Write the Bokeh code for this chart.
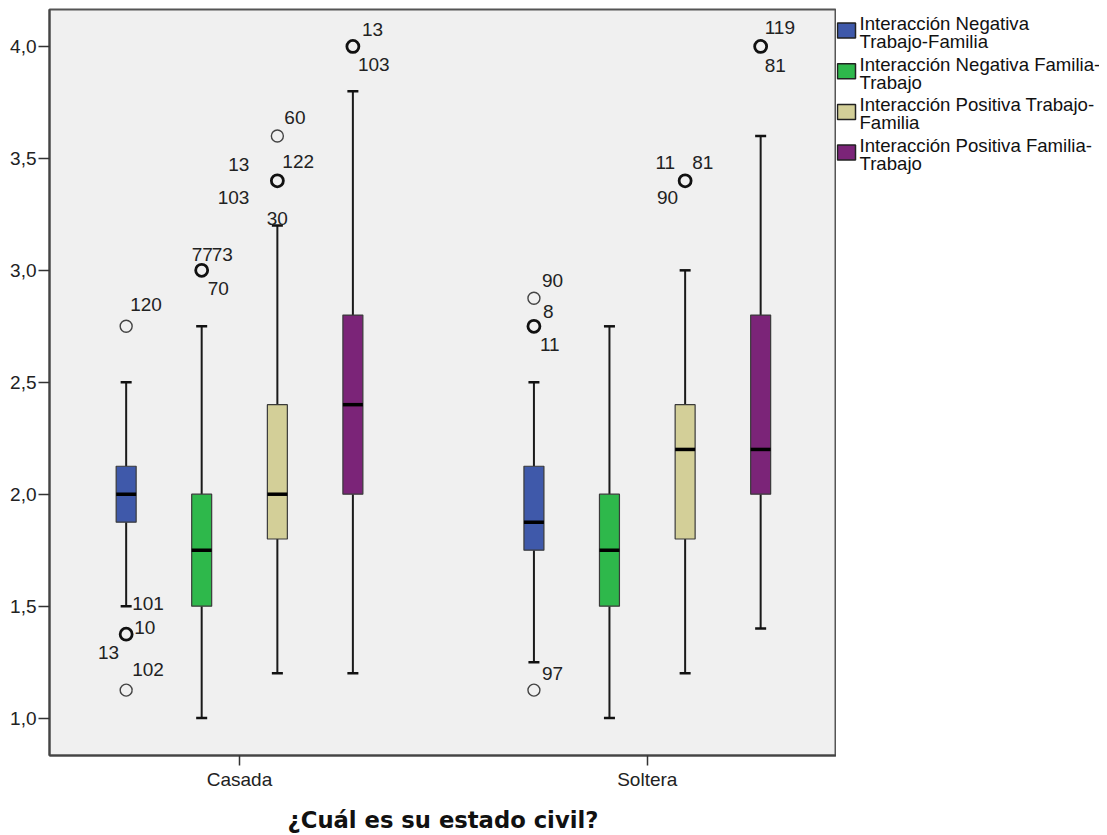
from bokeh.plotting import figure
from bokeh.layouts import row
from bokeh.models import (Range1d, FixedTicker, CustomJSTickFormatter, ColumnDataSource)
from bokeh.core.properties import value
from bokeh.embed import file_html
from bokeh.resources import INLINE

# ---------------- data ----------------
groups = ["Casada", "Soltera"]
series = ["Interacción Negativa\nTrabajo-Familia",
          "Interacción Negativa Familia-\nTrabajo",
          "Interacción Positiva Trabajo-\nFamilia",
          "Interacción Positiva Familia-\nTrabajo"]
colors = ["#3F59AA", "#2EB84B", "#D3CF98", "#7B2478"]

# per series, values for [Casada, Soltera]
whisker_low = [[1.5, 1.25], [1.0, 1.0], [1.2, 1.2], [1.2, 1.4]]
q1 = [[1.875, 1.75], [1.5, 1.5], [1.8, 1.8], [2.0, 2.0]]
median = [[2.0, 1.875], [1.75, 1.75], [2.0, 2.2], [2.4, 2.2]]
q3 = [[2.125, 2.125], [2.0, 2.0], [2.4, 2.4], [2.8, 2.8]]
whisker_high = [[2.5, 2.5], [2.75, 2.75], [3.2, 3.0], [3.8, 3.6]]

# outliers: group index, series index, value, number of cases
out_group = [0, 0, 0, 0, 0, 0, 0, 1, 1, 1, 1, 1]
out_series = [0, 0, 0, 1, 2, 2, 3, 0, 0, 0, 2, 3]
out_value = [2.75, 1.375, 1.125, 3.0, 3.6, 3.4, 4.0, 2.875, 2.75, 1.125, 3.4, 4.0]
out_count = [1, 2, 1, 3, 1, 3, 2, 1, 2, 1, 3, 2]

# case labels
lab_group = [0, 0, 0, 0, 0, 0, 0, 0, 0, 0, 0, 0, 0, 0, 0,
             1, 1, 1, 1, 1, 1, 1, 1, 1]
lab_series = [0, 0, 0, 0, 0, 1, 1, 1, 2, 2, 2, 2, 2, 3, 3,
              0, 0, 0, 0, 2, 2, 2, 3, 3]
lab_value = [2.75, 1.5, 1.375, 1.375, 1.125, 3.0, 3.0, 3.0, 3.6, 3.4, 3.4, 3.4, 3.2, 4.0, 4.0,
             2.875, 2.75, 2.75, 1.125, 3.4, 3.4, 3.4, 4.0, 4.0]
lab_text = ["120", "101", "10", "13", "102", "77", "73", "70", "60", "122", "13", "103", "30", "13", "103",
            "90", "8", "11", "97", "11", "81", "90", "119", "81"]
# label placement (screen px offsets and alignment)
lab_dx = [4, 6, 8, -7, 6, -10, 10, 6, 7, 5, -28, -28, 0, 9, 5,
          8, 9, 6, 8, -10, 7, -7, 4, 4]
lab_dy = [-22, -3, -7, 18, -21, -16, -16, 18, -18, -19, -16, 17, -7, -17, 18,
          -18, -15, 18, -17, -18, -18, 17, -19, 19]
lab_align = ["left", "left", "left", "right", "left", "left", "left", "left", "left", "left", "right",
             "right", "center", "left", "left",
             "left", "left", "left", "left", "right", "left", "right", "left", "left"]

# ---------------- layout constants ----------------
group_pos = [0.5, 1.5]
series_off = [-0.278, -0.0928, 0.0928, 0.278]
box_w = 0.049
cap_w = 0.027
FRAME_H = 746

p = figure(frame_width=787, frame_height=FRAME_H,
           min_border_left=49, min_border_top=9, min_border_right=0, min_border_bottom=10,
           x_range=Range1d(0.034, 1.964), y_range=Range1d(0.833, 4.165),
           output_backend="svg", toolbar_location=None,
           background_fill_color="#F0F0F0", border_fill_color="white")
p.outline_line_color = "#555555"
p.outline_line_width = 2
p.xgrid.visible = False
p.ygrid.visible = False

FONT = "Liberation Sans"
FS = "19px"

# y axis
p.yaxis.ticker = FixedTicker(ticks=[1.0, 1.5, 2.0, 2.5, 3.0, 3.5, 4.0])
p.yaxis.formatter = CustomJSTickFormatter(code="return tick.toFixed(1).replace('.', ',');")
p.yaxis.major_tick_out = 11
p.yaxis.major_tick_in = 0
p.yaxis.minor_tick_line_color = None
p.yaxis.major_label_standoff = 2
p.yaxis.axis_line_color = "#444444"
p.yaxis.axis_line_width = 2
p.yaxis.major_tick_line_color = "#333333"
p.yaxis.major_tick_line_width = 1.5
p.yaxis.major_label_text_font = FONT
p.yaxis.major_label_text_font_size = FS
p.yaxis.major_label_text_color = "#222222"

# x axis
p.xaxis.ticker = FixedTicker(ticks=group_pos)
p.xaxis.major_label_overrides = {group_pos[i]: groups[i] for i in range(len(groups))}
p.xaxis.major_tick_out = 10
p.xaxis.major_tick_in = 0
p.xaxis.minor_tick_line_color = None
p.xaxis.major_label_standoff = 3
p.xaxis.axis_line_color = "#444444"
p.xaxis.axis_line_width = 2
p.xaxis.major_tick_line_color = "#333333"
p.xaxis.major_tick_line_width = 1.5
p.xaxis.major_label_text_font = FONT
p.xaxis.major_label_text_font_size = FS
p.xaxis.major_label_text_color = "#222222"
p.xaxis.axis_label = "¿Cuál es su estado civil?"
p.xaxis.axis_label_text_font = "DejaVu Sans"
p.xaxis.axis_label_text_font_style = "bold"
p.xaxis.axis_label_text_font_size = "22.7px"
p.xaxis.axis_label_text_color = "#111111"
p.xaxis.axis_label_standoff = 14

for s in range(len(series)):
    xs = [group_pos[g] + series_off[s] for g in range(len(groups))]
    src = ColumnDataSource(dict(
        x=xs,
        lo=whisker_low[s], q1=q1[s], med=median[s], q3=q3[s], hi=whisker_high[s],
        bl=[x - box_w / 2 for x in xs], br=[x + box_w / 2 for x in xs],
        cl=[x - cap_w / 2 for x in xs], cr=[x + cap_w / 2 for x in xs],
    ))
    p.segment(x0="x", y0="lo", x1="x", y1="q1", source=src, line_color="#1a1a1a", line_width=2)
    p.segment(x0="x", y0="q3", x1="x", y1="hi", source=src, line_color="#1a1a1a", line_width=2)
    p.segment(x0="cl", y0="lo", x1="cr", y1="lo", source=src, line_color="#111111", line_width=2.5)
    p.segment(x0="cl", y0="hi", x1="cr", y1="hi", source=src, line_color="#111111", line_width=2.5)
    p.vbar(x="x", width=box_w, bottom="q1", top="q3", source=src,
           fill_color=colors[s], line_color="#3a3a3a", line_width=1.2)
    p.segment(x0="bl", y0="med", x1="br", y1="med", source=src, line_color="black", line_width=3.5)

# outliers
ox = [group_pos[g] + series_off[s] for g, s in zip(out_group, out_series)]
single = [i for i in range(len(out_value)) if out_count[i] == 1]
multi = [i for i in range(len(out_value)) if out_count[i] > 1]
p.scatter(x=[ox[i] for i in single], y=[out_value[i] for i in single], marker="circle", size=12,
          fill_color=None, line_color="#444444", line_width=1.4)
p.scatter(x=[ox[i] for i in multi], y=[out_value[i] for i in multi], marker="circle", size=12,
          fill_color=None, line_color="#111111", line_width=2.8)

# case labels
for align in ["left", "right", "center"]:
    idx = [i for i in range(len(lab_text)) if lab_align[i] == align]
    src = ColumnDataSource(dict(
        x=[group_pos[lab_group[i]] + series_off[lab_series[i]] for i in idx],
        y=[lab_value[i] for i in idx],
        t=[lab_text[i] for i in idx],
        dx=[lab_dx[i] for i in idx],
        dy=[lab_dy[i] for i in idx],
    ))
    p.text(x="x", y="y", text="t", x_offset="dx", y_offset="dy", source=src,
           text_align=align, text_baseline="middle", text_font=value(FONT),
           text_font_size=FS, text_color="#222222")

# ---------------- legend panel (separate svg figure) ----------------
LEG_W = 263
lf = figure(frame_width=LEG_W, frame_height=FRAME_H,
            min_border_left=0, min_border_top=9, min_border_right=0, min_border_bottom=0,
            x_range=Range1d(0, LEG_W), y_range=Range1d(FRAME_H, 0),
            x_axis_type=None, y_axis_type=None,
            output_backend="svg", toolbar_location=None,
            background_fill_color="white", border_fill_color="white")
lf.outline_line_color = None
lf.xgrid.visible = False
lf.ygrid.visible = False

pitch = 40.7
first = 21.0
centers = [first + i * pitch for i in range(len(series))]
lf.quad(left=[1] * len(series), right=[19] * len(series),
        top=[c - 7.5 for c in centers], bottom=[c + 7.5 for c in centers],
        fill_color=colors, line_color="#222222", line_width=1.5)
line1 = [s.split("\n")[0] for s in series]
line2 = [s.split("\n")[1] for s in series]
lf.text(x=[23] * len(series), y=[c - 7 for c in centers], text=line1,
        text_align="left", text_baseline="middle", text_font=value(FONT),
        text_font_size="18.6px", text_color="#111111")
lf.text(x=[23] * len(series), y=[c + 11 for c in centers], text=line2,
        text_align="left", text_baseline="middle", text_font=value(FONT),
        text_font_size="18.6px", text_color="#111111")

layout = row(p, lf, spacing=0)
open("out.html", "w").write(file_html(layout, INLINE))
